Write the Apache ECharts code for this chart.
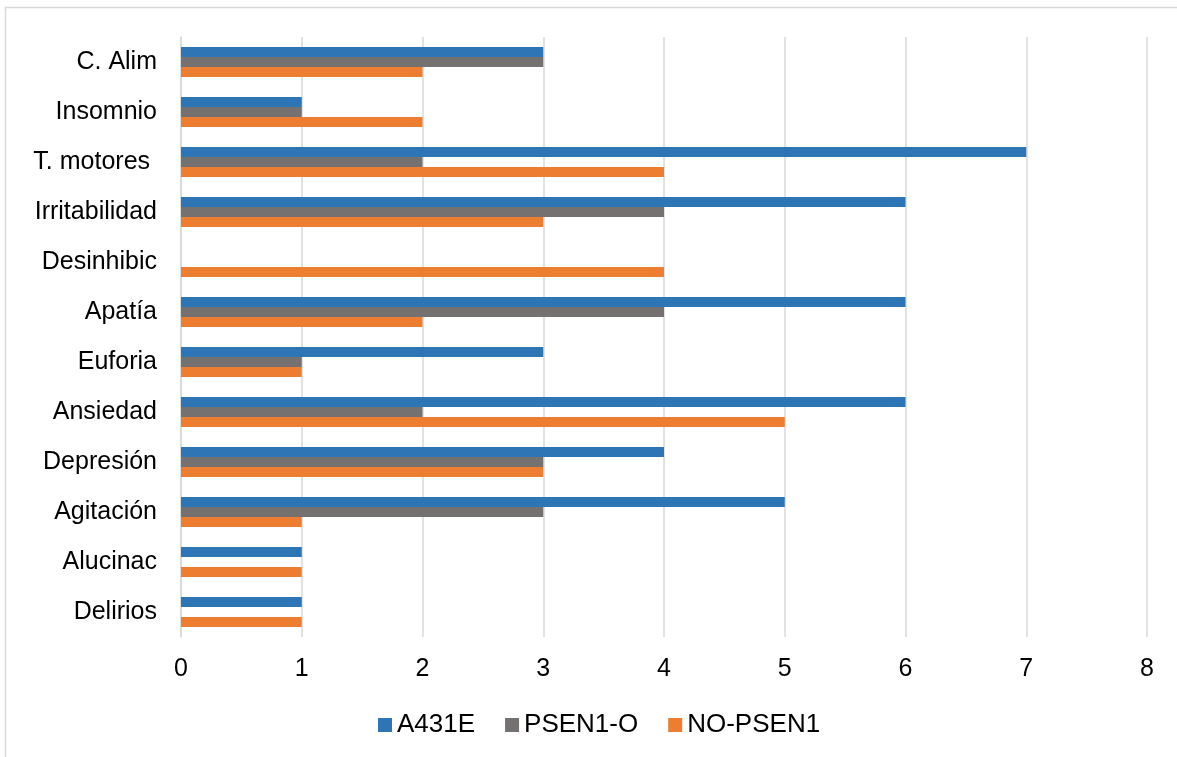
<!DOCTYPE html>
<html>
<head>
<meta charset="utf-8">
<script src="https://cdn.jsdelivr.net/npm/echarts@6/dist/echarts.min.js"></script>
<style>html,body{margin:0;padding:0;background:#fff;}#c{width:1177px;height:757px;}</style>
</head>
<body>
<div id="c"></div>
<script>
const categories = ["Delirios","Alucinac","Agitación","Depresión","Ansiedad","Euforia","Apatía","Desinhibic","Irritabilidad","T. motores ","Insomnio","C. Alim"];
const A431E =    [1,1,5,4,6,3,6,0,6,7,1,3];
const PSEN1_O =  [0,0,3,3,2,1,4,0,4,2,1,3];
const NO_PSEN1 = [1,1,1,3,5,1,2,4,3,4,2,2];
const xTicks = [0,1,2,3,4,5,6,7,8];

const chart = echarts.init(document.getElementById('c'));
const font = 'Liberation Sans, Arial, sans-serif';
chart.setOption({
  animation:false,
  graphic:[{type:'rect',shape:{x:5.5,y:7.5,width:1200,height:800},style:{fill:'none',stroke:'#d9d9d9',lineWidth:1.5},silent:true}],
  grid:{left:181,right:30,top:37,bottom:120},
  legend:{
    data:['A431E','PSEN1-O','NO-PSEN1'],
    top:707, left:373,
    icon:'rect', itemWidth:14, itemHeight:14, itemGap:30,
    textStyle:{fontFamily:font,fontSize:26,color:'#000'}
  },
  xAxis:{type:'value',min:xTicks[0],max:xTicks[xTicks.length-1],interval:1,
    axisLabel:{fontFamily:font,fontSize:25,color:'#000',margin:20},
    splitLine:{lineStyle:{color:'#d9d9d9',width:1.5}},
    axisLine:{show:false},axisTick:{show:false}},
  yAxis:{type:'category',data:categories,
    axisLabel:{fontFamily:font,fontSize:25,color:'#000',margin:24},
    axisLine:{show:true,lineStyle:{color:'#d9d9d9',width:1.5}},
    axisTick:{show:false}},
  series:[
    {name:'A431E',type:'bar',data:A431E,barWidth:10,barGap:'0%',itemStyle:{color:'#2E75B6'}},
    {name:'PSEN1-O',type:'bar',data:PSEN1_O,barWidth:10,barGap:'0%',itemStyle:{color:'#767171'}},
    {name:'NO-PSEN1',type:'bar',data:NO_PSEN1,barWidth:10,barGap:'0%',itemStyle:{color:'#ED7D31'}}
  ]
});
</script>
</body>
</html>
